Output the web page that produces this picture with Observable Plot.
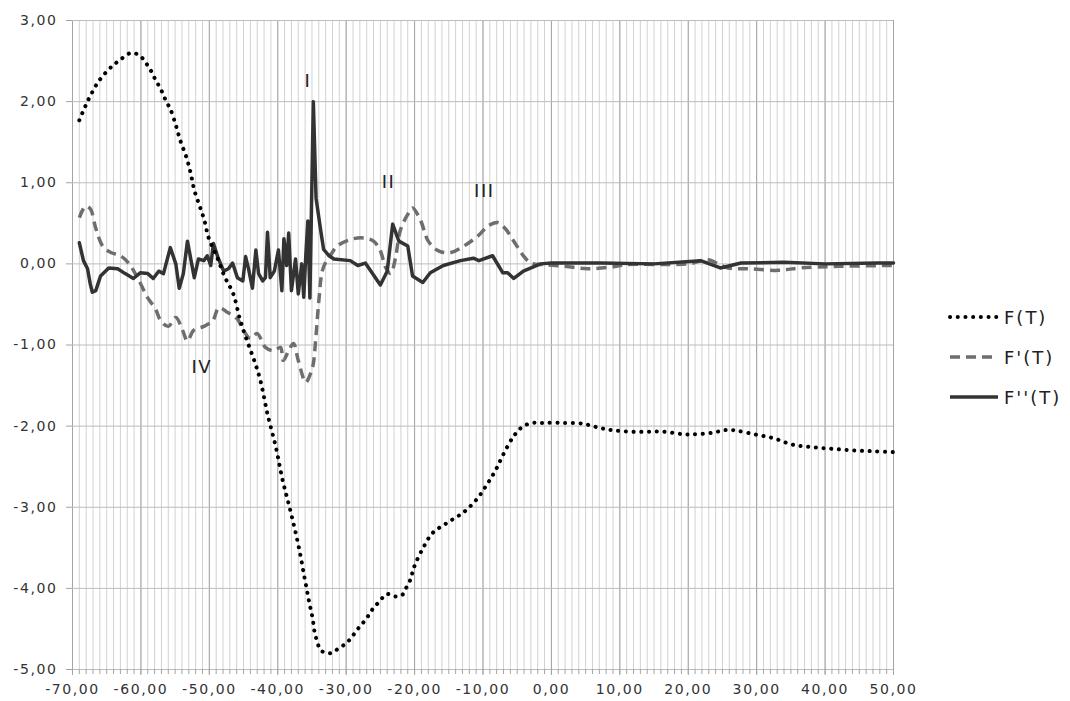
<!DOCTYPE html>
<html>
<head>
<meta charset="utf-8">
<script src="https://cdn.jsdelivr.net/npm/d3@7"></script>
<script src="https://cdn.jsdelivr.net/npm/@observablehq/plot@0.6"></script>
<style>
  html, body { margin: 0; padding: 0; background: #fff; }
  #wrap { position: relative; width: 1070px; height: 701px; }
  #chart svg text { letter-spacing: 1.6px; }
  #legend { position: absolute; left: 948px; top: 300px; font-family: "DejaVu Sans", sans-serif; font-size: 18px; color: #222; letter-spacing: 2px; }
  #legend .row { position: absolute; left: 0; height: 30px; display: flex; align-items: center; white-space: nowrap; }
  #legend svg { margin-right: 4px; }
</style>
</head>
<body>
<div id="wrap">
  <div id="chart"></div>
  <div id="legend"></div>
</div>
<script>
// ---- data ----
const seriesNames = ["F(T)", "F'(T)", "F''(T)"];

const fX = [-69.0, -68.2, -67.4, -66.1, -64.3, -63.1, -61.5, -60.2, -59.3, -58.6, -58.0, -57.4, -56.8, -56.3, -55.7, -54.9, -54.2, -53.3, -52.7, -52.2, -51.4, -50.7, -50.1, -48.9, -47.8, -46.5, -45.6, -44.9, -44.0, -43.2, -42.5, -41.5, -40.3, -39.3, -38.1, -37.0, -36.1, -35.4, -34.9, -34.5, -33.6, -32.3, -31.1, -29.9, -29.1, -28.3, -27.5, -26.7, -26.0, -25.1, -24.1, -22.8, -21.8, -21.2, -20.6, -20.3, -19.9, -18.8, -17.4, -15.2, -12.8, -10.9, -9.5, -8.2, -7.1, -5.8, -5.1, -4.1, -2.7, -1.3, 1.6, 4.6, 6.0, 7.5, 8.9, 11.9, 16.4, 19.3, 20.8, 23.7, 25.2, 26.6, 29.6, 32.5, 35.3, 38.2, 41.1, 44.2, 47.1, 50.0];
const fY = [1.77, 1.93, 2.07, 2.26, 2.43, 2.51, 2.60, 2.57, 2.48, 2.39, 2.29, 2.20, 2.10, 2.00, 1.91, 1.71, 1.51, 1.30, 1.11, 0.91, 0.71, 0.53, 0.32, 0.09, -0.15, -0.37, -0.66, -0.85, -1.06, -1.25, -1.45, -1.85, -2.25, -2.66, -3.06, -3.46, -3.86, -4.17, -4.37, -4.58, -4.77, -4.80, -4.74, -4.67, -4.59, -4.50, -4.42, -4.33, -4.24, -4.16, -4.07, -4.10, -4.08, -3.99, -3.89, -3.80, -3.70, -3.51, -3.32, -3.19, -3.06, -2.90, -2.73, -2.55, -2.36, -2.16, -2.08, -2.00, -1.96, -1.96, -1.96, -1.97, -2.00, -2.03, -2.05, -2.07, -2.07, -2.10, -2.10, -2.08, -2.05, -2.05, -2.10, -2.15, -2.23, -2.26, -2.28, -2.30, -2.31, -2.32];

const f1X = [-69.0, -68.1, -67.4, -66.6, -65.6, -64.4, -63.0, -61.8, -60.5, -59.0, -57.9, -57.1, -56.0, -54.9, -53.9, -53.2, -52.3, -50.8, -49.5, -48.6, -47.3, -45.9, -45.0, -44.0, -43.0, -41.8, -40.6, -39.6, -39.2, -38.4, -37.7, -37.0, -35.9, -35.2, -34.8, -34.5, -34.0, -33.5, -33.0, -32.2, -31.3, -29.4, -27.5, -26.0, -25.0, -24.2, -23.5, -22.8, -22.1, -21.0, -20.3, -19.1, -18.0, -16.5, -14.7, -12.8, -10.8, -9.2, -7.9, -6.7, -5.5, -4.1, -3.0, -1.0, 2.0, 5.3, 8.7, 11.0, 20.0, 22.8, 25.8, 29.0, 33.1, 36.4, 42.0, 50.0];
const f1Y = [0.57, 0.71, 0.68, 0.44, 0.22, 0.14, 0.10, 0.01, -0.17, -0.42, -0.55, -0.70, -0.77, -0.66, -0.82, -0.95, -0.82, -0.77, -0.70, -0.54, -0.60, -0.68, -0.82, -0.92, -0.86, -1.03, -1.07, -1.03, -1.19, -1.07, -0.98, -1.19, -1.46, -1.35, -1.23, -0.98, -0.46, -0.09, 0.02, 0.12, 0.22, 0.30, 0.32, 0.28, 0.16, -0.05, -0.12, 0.07, 0.41, 0.61, 0.69, 0.53, 0.28, 0.16, 0.14, 0.22, 0.34, 0.47, 0.51, 0.43, 0.28, 0.10, 0.01, -0.01, -0.03, -0.06, -0.04, -0.01, 0.00, 0.05, -0.05, -0.06, -0.08, -0.05, -0.03, -0.02];

const f2X = [-69.0, -68.4, -67.8, -67.4, -67.1, -66.6, -65.9, -64.7, -63.4, -62.3, -61.1, -60.1, -59.0, -58.2, -57.4, -56.7, -55.7, -54.9, -54.4, -53.8, -53.2, -52.6, -52.2, -51.6, -50.8, -50.3, -49.8, -49.4, -48.7, -47.9, -47.2, -46.6, -45.9, -45.1, -44.7, -44.3, -43.7, -43.2, -42.8, -42.2, -41.8, -41.5, -41.1, -40.5, -39.9, -39.4, -39.1, -38.7, -38.4, -38.0, -37.4, -37.0, -36.5, -36.2, -35.9, -35.6, -35.3, -34.8, -34.4, -33.7, -33.3, -32.5, -31.8, -29.4, -28.3, -27.2, -25.0, -24.0, -23.2, -22.3, -21.0, -20.3, -18.8, -17.7, -15.8, -13.3, -11.4, -10.6, -8.6, -7.1, -6.4, -5.5, -4.1, -1.6, 0.0, 7.2, 15.0, 21.8, 24.7, 27.7, 34.0, 40.0, 47.7, 50.0];
const f2Y = [0.26, 0.04, -0.06, -0.25, -0.35, -0.33, -0.15, -0.05, -0.06, -0.12, -0.18, -0.11, -0.12, -0.18, -0.09, -0.12, 0.20, 0.00, -0.30, -0.12, 0.28, 0.01, -0.17, 0.06, 0.04, 0.10, -0.02, 0.25, 0.07, -0.09, -0.06, 0.01, -0.17, -0.21, 0.09, -0.05, -0.30, 0.17, -0.12, -0.21, -0.17, 0.39, -0.17, -0.09, 0.17, -0.33, 0.31, -0.02, 0.38, -0.33, 0.06, -0.37, 0.00, -0.41, 0.10, 0.53, -0.42, 2.00, 0.81, 0.40, 0.18, 0.10, 0.06, 0.04, -0.02, 0.01, -0.26, -0.09, 0.49, 0.28, 0.22, -0.15, -0.23, -0.11, -0.02, 0.04, 0.07, 0.04, 0.10, -0.11, -0.11, -0.18, -0.09, 0.00, 0.01, 0.01, 0.00, 0.04, -0.05, 0.01, 0.02, 0.00, 0.01, 0.01];

const xTicks = [-70, -60, -50, -40, -30, -20, -10, 0, 10, 20, 30, 40, 50];
const xMinorTicks = d3.range(-70, 51, 1);
const yTicks = [-5, -4, -3, -2, -1, 0, 1, 2, 3];

const labelText = ["I", "II", "III", "IV"];
const labelX = [-35.6, -23.8, -9.8, -51.1];
const labelY = [2.25, 1.01, 0.90, -1.28];

// ---- build ----
const toRows = (xs, ys) => xs.map((x, i) => ({x, y: ys[i]}));
const F0 = toRows(fX, fY), F1 = toRows(f1X, f1Y), F2 = toRows(f2X, f2Y);
const labels = labelText.map((t, i) => ({t, x: labelX[i], y: labelY[i]}));
const fmt = d => d.toFixed(2).replace(".", ",");

const styles = [
  {stroke: "#000", strokeWidth: 4, strokeDasharray: "0.1 7.6", strokeLinecap: "round"},
  {stroke: "#6e6e6e", strokeWidth: 3.5, strokeDasharray: "10 6", strokeLinecap: "butt"},
  {stroke: "#333", strokeWidth: 3.5}
];

const chart = Plot.plot({
  width: 1070, height: 701,
  marginLeft: 72, marginRight: 177, marginTop: 20, marginBottom: 32,
  x: {domain: [-70, 50]},
  y: {domain: [-5, 3]},
  style: {fontFamily: "DejaVu Sans, sans-serif", fontSize: "14px", color: "#333", background: "#fff"},
  marks: [
    Plot.ruleX(xMinorTicks, {stroke: "#d2d2d2", strokeWidth: 1}),
    Plot.ruleX(xTicks, {stroke: "#a4a4a4", strokeWidth: 1}),
    Plot.ruleY(yTicks, {stroke: "#bcbcbc", strokeWidth: 1}),
    Plot.axisX(xMinorTicks, {tickSize: 5, tickFormat: () => "", stroke: "#a4a4a4", label: null}),
    Plot.axisX(xTicks, {tickSize: 6, tickPadding: 9, tickFormat: fmt, stroke: "#a4a4a4", fill: "#333", label: null}),
    Plot.axisY(yTicks, {tickSize: 6, tickPadding: 9, tickFormat: fmt, stroke: "#a4a4a4", fill: "#333", label: null}),
    Plot.line(F1, {x: "x", y: "y", ...styles[1], curve: "catmull-rom"}),
    Plot.line(F2, {x: "x", y: "y", ...styles[2]}),
    Plot.line(F0, {x: "x", y: "y", ...styles[0], curve: "catmull-rom"}),
    Plot.text(labels, {x: "x", y: "y", text: "t", fontSize: 18, fill: "#222", fontFamily: "DejaVu Sans, sans-serif"})
  ]
});
document.getElementById("chart").appendChild(chart);

// legend
const legend = document.getElementById("legend");
const tops = [2, 42, 82];
seriesNames.forEach((name, i) => {
  const row = document.createElement("div");
  row.className = "row";
  row.style.top = tops[i] + "px";
  const s = styles[i];
  row.innerHTML = `<svg width="52" height="10"><line x1="2" x2="50" y1="5" y2="5" stroke="${s.stroke}" stroke-width="${s.strokeWidth}" ${s.strokeDasharray ? `stroke-dasharray="${s.strokeDasharray}"` : ""} stroke-linecap="${s.strokeLinecap || "butt"}"/></svg><span>${name}</span>`;
  legend.appendChild(row);
});
</script>
</body>
</html>
